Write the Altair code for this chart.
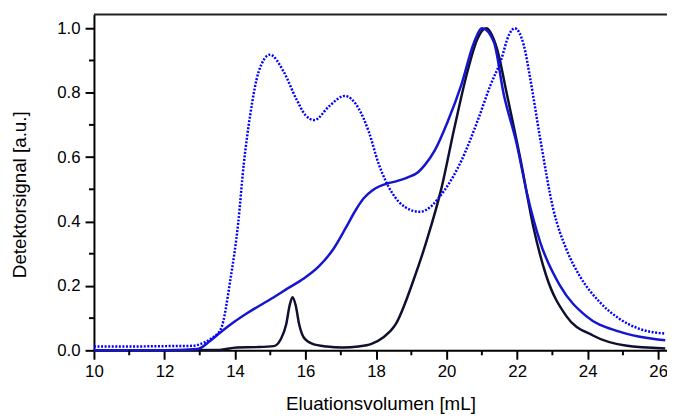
import altair as alt
import pandas as pd

# Series values
dark_x = [10, 12, 13.5, 14.06, 14.6, 15.1, 15.3, 15.45, 15.55, 15.63, 15.72, 15.82, 15.95, 16.2, 16.6, 17.05, 17.5, 17.87, 18.2, 18.54, 19.1, 19.47, 19.86, 20.22, 20.59, 20.87, 21.12, 21.43, 21.71, 22.1, 22.46, 22.83, 23.39, 24.15, 25.07, 26.2]
dark_y = [0, 0, 0.001, 0.009, 0.01, 0.013, 0.035, 0.08, 0.14, 0.165, 0.14, 0.08, 0.04, 0.02, 0.012, 0.009, 0.012, 0.02, 0.04, 0.078, 0.23, 0.353, 0.506, 0.69, 0.865, 0.966, 1.0, 0.936, 0.795, 0.59, 0.383, 0.23, 0.107, 0.046, 0.015, 0.006]

solid_x = [10, 11, 12, 12.94, 13.3, 13.6, 14.0, 14.34, 15.1, 15.46, 15.94, 16.39, 16.78, 17.14, 17.42, 17.65, 17.9, 18.32, 18.54, 18.9, 19.19, 19.38, 19.66, 20.03, 20.42, 20.78, 21.01, 21.34, 21.62, 21.99, 22.28, 22.66, 23.22, 23.95, 24.9, 26.2]
solid_y = [0.0, 0.0, 0.0, 0.004, 0.03, 0.057, 0.09, 0.115, 0.165, 0.19, 0.222, 0.262, 0.313, 0.38, 0.435, 0.472, 0.497, 0.518, 0.524, 0.537, 0.553, 0.575, 0.62, 0.71, 0.825, 0.957, 1.0, 0.957, 0.795, 0.64, 0.487, 0.334, 0.2, 0.107, 0.058, 0.031]

dotted_x = [10, 11, 12, 12.8, 13.03, 13.3, 13.6, 13.87, 14.09, 14.25, 14.43, 14.67, 14.99, 15.38, 15.74, 16.0, 16.25, 16.67, 17.11, 17.5, 17.79, 18.07, 18.46, 18.82, 19.24, 19.94, 20.42, 20.87, 21.25, 21.54, 21.77, 21.93, 22.19, 22.37, 22.65, 23.03, 23.4, 23.78, 24.34, 24.9, 25.46, 26.2]
dotted_y = [0.012, 0.012, 0.013, 0.014, 0.02, 0.035, 0.067, 0.22, 0.395, 0.58, 0.73, 0.865, 0.918, 0.865, 0.78, 0.73, 0.715, 0.758, 0.79, 0.752, 0.68, 0.58, 0.488, 0.445, 0.43, 0.497, 0.589, 0.71, 0.825, 0.90, 0.98, 1.0, 0.947, 0.845, 0.66, 0.436, 0.313, 0.23, 0.15, 0.098, 0.067, 0.052]

series_names = ["dark", "solid", "dotted"]
series_colors = ["#0f0f30", "#1515d0", "#0000ff"]

x_major = [10, 12, 14, 16, 18, 20, 22, 24, 26]
x_minor = [11, 13, 15, 17, 19, 21, 23, 25]
y_major = [0.0, 0.2, 0.4, 0.6, 0.8, 1.0]
y_minor = [0.1, 0.3, 0.5, 0.7, 0.9]

x_domain = [10, 26.25]
y_domain = [0, 1.043]

rows = []
for name, xs, ys in [("dark", dark_x, dark_y), ("solid", solid_x, solid_y), ("dotted", dotted_x, dotted_y)]:
    for i, (a, b) in enumerate(zip(xs, ys)):
        rows.append({"series": name, "vol": a, "sig": b, "order": i})
df = pd.DataFrame(rows)

FONT = "Liberation Sans"
W, H = 580, 340

xs = alt.Scale(domain=x_domain, nice=False, zero=False)
ys = alt.Scale(domain=y_domain, nice=False)

lines_solid = alt.Chart(df).transform_filter(alt.datum.series != "dotted").mark_line(
    interpolate="monotone", strokeWidth=2.5
).encode(
    x=alt.X("vol:Q", scale=xs, axis=alt.Axis(
        values=x_major, format="d", title="Eluationsvolumen [mL]",
        tickSize=9, tickWidth=2, tickColor="black", domainColor="black", domainWidth=2,
        labelFont=FONT, labelFontSize=17, labelColor="black", labelPadding=4,
        titleFont=FONT, titleFontSize=19, titleFontWeight="normal", titleColor="black",
        titleBaseline="middle", titleY=54, grid=False, labelFlush=False)),
    y=alt.Y("sig:Q", scale=ys, axis=alt.Axis(
        values=y_major, format=".1f", title="Detektorsignal [a.u.]",
        tickSize=9, tickWidth=2, tickColor="black", domainColor="black", domainWidth=2,
        labelFont=FONT, labelFontSize=17, labelColor="black", labelPadding=5,
        titleFont=FONT, titleFontSize=19, titleFontWeight="normal", titleColor="black",
        titleBaseline="middle", titleX=-75, titleY=182, titleAngle=-90, grid=False, labelFlush=False)),
    color=alt.Color("series:N", scale=alt.Scale(domain=series_names, range=series_colors), legend=None),
    detail="series:N",
    order="order:Q",
)

lines_dotted = alt.Chart(df).transform_filter(alt.datum.series == "dotted").mark_line(
    interpolate="monotone", strokeWidth=2.5, strokeDash=[2, 1.6], color="#0000ff"
).encode(
    x=alt.X("vol:Q", scale=xs),
    y=alt.Y("sig:Q", scale=ys),
    order="order:Q",
)

minor_x = alt.Chart(pd.DataFrame({"v": x_minor})).mark_rule(color="black", strokeWidth=2).encode(
    x=alt.X("v:Q", scale=xs), y=alt.value(H), y2=alt.value(H + 5)
)
minor_y = alt.Chart(pd.DataFrame({"v": y_minor})).mark_rule(color="black", strokeWidth=2).encode(
    y=alt.Y("v:Q", scale=ys), x=alt.value(-5), x2=alt.value(0)
)
top_line = alt.Chart(pd.DataFrame({"v": [0]})).mark_rule(color="#222222", strokeWidth=2).encode(
    x=alt.value(0), x2=alt.value(W), y=alt.value(0)
)

chart = alt.layer(lines_solid, lines_dotted, minor_x, minor_y, top_line).properties(
    width=W, height=H,
    autosize=alt.AutoSizeParams(type="none"),
    padding={"left": 87, "top": 4, "right": 0, "bottom": 66},
).configure_view(stroke=None)

chart.save("out.html", embed_options={"renderer": "svg", "actions": False})
